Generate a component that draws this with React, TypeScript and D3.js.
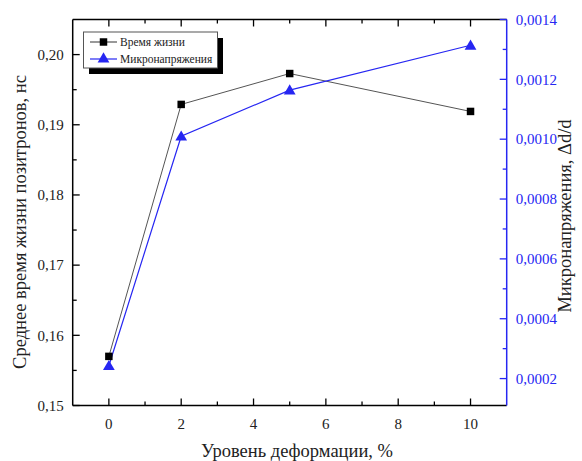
import React, { useEffect, useRef } from 'react';
import * as d3 from 'd3';

// deformation level, %
const deformation = [0, 2, 5, 10];
// mean positron lifetime, ns
const lifetime = [0.157, 0.1929, 0.1973, 0.1919];
// microstrain, Δd/d
const microstrain = [0.000243, 0.00101, 0.001164, 0.001314];

const leftTicks = [0.15, 0.16, 0.17, 0.18, 0.19, 0.2];
const rightTicks = [0.0002, 0.0004, 0.0006, 0.0008, 0.001, 0.0012, 0.0014];
const xTicks = [0, 2, 4, 6, 8, 10];

const seriesNames = ['Время жизни', 'Микронапряжения'];
const xTitle = 'Уровень деформации, %';
const leftTitle = 'Среднее время жизни позитронов, нс';
const rightTitle = 'Микронапряжения, Δd/d';

const W = 582;
const H = 461;
const BLUE = '#2626f2';
const FONT = "'Liberation Serif', 'Times New Roman', serif";

const App = () => {
    const ref = useRef<SVGSVGElement>(null);

    useEffect(() => {
        const svg = d3.select(ref.current);
        svg.selectAll('*').remove();

        const left = 72.7, right = 506.7, top = 19.5, bottom = 405.5;

        const x = d3.scaleLinear().domain([-1, 11]).range([left, right]);
        const yL = d3.scaleLinear().domain([0.15, 0.205]).range([bottom, top]);
        const yR = d3.scaleLinear().domain([0.00011, 0.0014]).range([bottom, top]);

        const fmt = (d: number, n: number) => d.toFixed(n).replace('.', ',');

        // helper for text, font set through style so the family name sticks
        const label = (g: any, txt: string, size: number, fill: string) =>
            g.append('text').style('font-family', FONT).style('font-size', `${size}px`).attr('fill', fill).text(txt);

        // frame lines
        svg.append('line').attr('x1', left).attr('x2', right).attr('y1', bottom).attr('y2', bottom)
            .attr('stroke', '#000').attr('stroke-width', 1.5);
        svg.append('line').attr('x1', left).attr('x2', right).attr('y1', top).attr('y2', top)
            .attr('stroke', '#000').attr('stroke-width', 1.5);
        svg.append('line').attr('x1', left).attr('x2', left).attr('y1', top).attr('y2', bottom)
            .attr('stroke', '#000').attr('stroke-width', 1.5);
        svg.append('line').attr('x1', right).attr('x2', right).attr('y1', top).attr('y2', bottom)
            .attr('stroke', BLUE).attr('stroke-width', 1.5);

        // x ticks (bottom and top, pointing inward)
        const xMinor = [1, 3, 5, 7, 9];
        xTicks.forEach(v => {
            svg.append('line').attr('x1', x(v)).attr('x2', x(v)).attr('y1', bottom).attr('y2', bottom - 7)
                .attr('stroke', '#000').attr('stroke-width', 1.3);
            svg.append('line').attr('x1', x(v)).attr('x2', x(v)).attr('y1', top).attr('y2', top + 7)
                .attr('stroke', '#000').attr('stroke-width', 1.3);
            label(svg, String(v), 15, '#222').attr('x', x(v)).attr('y', bottom + 23).attr('text-anchor', 'middle');
        });
        xMinor.forEach(v => {
            svg.append('line').attr('x1', x(v)).attr('x2', x(v)).attr('y1', bottom).attr('y2', bottom - 4)
                .attr('stroke', '#000').attr('stroke-width', 1.3);
            svg.append('line').attr('x1', x(v)).attr('x2', x(v)).attr('y1', top).attr('y2', top + 4)
                .attr('stroke', '#000').attr('stroke-width', 1.3);
        });

        // left ticks
        leftTicks.forEach(v => {
            svg.append('line').attr('x1', left).attr('x2', left + 7).attr('y1', yL(v)).attr('y2', yL(v))
                .attr('stroke', '#000').attr('stroke-width', 1.3);
            label(svg, fmt(v, 2), 15, '#222').attr('x', left - 9).attr('y', yL(v)).attr('dy', '0.35em')
                .attr('text-anchor', 'end');
        });
        [0.155, 0.165, 0.175, 0.185, 0.195].forEach(v => {
            svg.append('line').attr('x1', left).attr('x2', left + 4).attr('y1', yL(v)).attr('y2', yL(v))
                .attr('stroke', '#000').attr('stroke-width', 1.3);
        });

        // right ticks
        rightTicks.forEach(v => {
            svg.append('line').attr('x1', right).attr('x2', right - 7).attr('y1', yR(v)).attr('y2', yR(v))
                .attr('stroke', BLUE).attr('stroke-width', 1.3);
            label(svg, fmt(v, 4), 15, BLUE).attr('x', right + 9).attr('y', yR(v)).attr('dy', '0.35em')
                .attr('text-anchor', 'start');
        });
        [0.0003, 0.0005, 0.0007, 0.0009, 0.0011, 0.0013].forEach(v => {
            svg.append('line').attr('x1', right).attr('x2', right - 4).attr('y1', yR(v)).attr('y2', yR(v))
                .attr('stroke', BLUE).attr('stroke-width', 1.3);
        });

        // axis titles
        label(svg, xTitle, 18.5, '#222').attr('x', 297).attr('y', 457).attr('text-anchor', 'middle');
        label(svg, leftTitle, 18.5, '#222').attr('transform', 'translate(26,222) rotate(-90)')
            .attr('text-anchor', 'middle');
        label(svg, rightTitle, 18.5, '#222').attr('transform', 'translate(571,216) rotate(-90)')
            .attr('text-anchor', 'middle');

        // series lines
        const lineL = d3.line<number>().x((d, i) => x(deformation[i])).y(d => yL(d));
        const lineR = d3.line<number>().x((d, i) => x(deformation[i])).y(d => yR(d));
        svg.append('path').attr('d', lineL(lifetime)).attr('fill', 'none').attr('stroke', '#555').attr('stroke-width', 1);
        svg.append('path').attr('d', lineR(microstrain)).attr('fill', 'none').attr('stroke', BLUE).attr('stroke-width', 1.2);

        const sq = d3.symbol().type(d3.symbolSquare).size(56);
        const tri = d3.symbol().type(d3.symbolTriangle).size(60);
        lifetime.forEach((v, i) => {
            svg.append('path').attr('d', sq()).attr('transform', `translate(${x(deformation[i])},${yL(v)})`).attr('fill', '#000');
        });
        microstrain.forEach((v, i) => {
            svg.append('path').attr('d', tri()).attr('transform', `translate(${x(deformation[i])},${yR(v) + 1})`).attr('fill', BLUE);
        });

        // legend
        const lg = svg.append('g');
        lg.append('rect').attr('x', 89).attr('y', 38).attr('width', 134).attr('height', 36).attr('fill', '#000');
        lg.append('rect').attr('x', 83.5).attr('y', 32).attr('width', 134).attr('height', 36)
            .attr('fill', '#fff').attr('stroke', '#555').attr('stroke-width', 1);
        const rows = [
            { name: seriesNames[0], color: '#555', sym: sq, fill: '#000', y: 42 },
            { name: seriesNames[1], color: BLUE, sym: tri, fill: BLUE, y: 59 },
        ];
        rows.forEach(r => {
            lg.append('line').attr('x1', 90).attr('x2', 117).attr('y1', r.y).attr('y2', r.y)
                .attr('stroke', r.color).attr('stroke-width', 1.2);
            lg.append('path').attr('d', r.sym()).attr('transform', `translate(103.5,${r.y})`).attr('fill', r.fill);
            label(lg, r.name, 11.5, '#222').attr('x', 120).attr('y', r.y).attr('dy', '0.35em');
        });
    }, []);

    return <svg ref={ref} width={W} height={H} style={{ position: 'absolute', left: 0, top: 0, background: '#fff' }}></svg>;
};

export default App;
